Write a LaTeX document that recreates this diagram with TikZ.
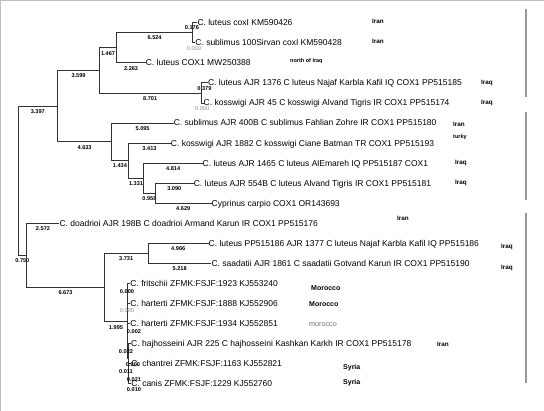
\documentclass[tikz,border=0pt]{standalone}
\usepackage{fontspec}
\setmainfont{Liberation Sans}
\begin{document}
\begin{tikzpicture}[x=1pt,y=-1pt,
  br/.style={draw=black!80, line width=0.75pt},
  leaf/.style={anchor=west, inner sep=0pt, xshift=2.6pt, text height=6.1pt, text depth=0pt, font=\fontsize{8.5}{9}\selectfont},
  bl/.style={font=\bfseries\fontsize{5.6}{6}\selectfont, inner sep=0pt, anchor=north, yshift=-3pt},
  zl/.style={font=\fontsize{5.6}{6}\selectfont, text=black!45, inner sep=0pt, anchor=north, yshift=-3pt},
  mbl/.style={font=\bfseries\fontsize{5.6}{6}\selectfont, inner sep=0pt, anchor=center},
  mzl/.style={font=\fontsize{5.6}{6}\selectfont, text=black!45, inner sep=0pt, anchor=center},
  ctry/.style={font=\bfseries\fontsize{6.3}{7}\selectfont, anchor=west, inner sep=0pt},
  bar/.style={draw=black!40, line width=1.3pt},
  frame/.style={draw=black!25, line width=1.2pt}]
\useasboundingbox (0,0) rectangle (544,411);
\fill[white] (0,0) rectangle (544,411);
\draw[frame] (0.6,411) -- (0.6,0.6) -- (544,0.6);

% internal nodes
\coordinate (R) at (18,180.6);
\coordinate (A) at (57.6,106.0);
\coordinate (B) at (99.5,70.3);
\coordinate (C) at (116.6,47.75);
\coordinate (D) at (192.6,32.7);
\coordinate (E) at (200.9,92.9);
\coordinate (F) at (111.6,141.75);
\coordinate (G) at (128.3,160.55);
\coordinate (H) at (143.8,178.1);
\coordinate (I) at (155.0,193.1);
\coordinate (J) at (26.7,255.15);
\coordinate (K) at (104.4,287.1);
\coordinate (L) at (148.0,253.3);
\coordinate (M) at (127.6,320.95);
\coordinate (N) at (128.1,358.55);
\coordinate (O) at (128.6,373.6);

% leaves
\node[leaf] (l0) at (194.7,22.7) {C. luteus coxI KM590426};
\node[leaf] (l1) at (192.6,42.75) {C. sublimus 100Sirvan coxI KM590428};
\node[leaf] (l2) at (143.0,62.8) {C. luteus COX1 MW250388};
\node[leaf] (l3) at (205.3,82.85) {C. luteus AJR 1376 C luteus Najaf Karbla Kafil IQ COX1 PP515185};
\node[leaf] (l4) at (200.9,102.9) {C. kosswigi AJR 45 C kosswigi Alvand Tigris IR COX1 PP515174};
\node[leaf] (l5) at (171.0,122.95) {C. sublimus AJR 400B C sublimus Fahlian Zohre IR COX1 PP515180};
\node[leaf] (l6) at (168.1,143.0) {C. kosswigi AJR 1882 C kosswigi Ciane Batman TR COX1 PP515193};
\node[leaf] (l7) at (199.9,163.05) {C. luteus AJR 1465 C luteus AlEmareh IQ PP515187 COX1};
\node[leaf] (l8) at (191.0,183.1) {C. luteus AJR 554B C luteus Alvand Tigris IR COX1 PP515181};
\node[leaf] (l9) at (208.9,203.15) {Cyprinus carpio COX1 OR143693};
\node[leaf] (l10) at (56.7,223.2) {C. doadrioi AJR 198B C doadrioi Armand Karun IR COX1 PP515176};
\node[leaf] (l11) at (205.9,243.25) {C. luteus PP515186 AJR 1377 C luteus Najaf Karbla Kafil IQ PP515186};
\node[leaf] (l12) at (208.8,263.3) {C. saadatii AJR 1861 C saadatii Gotvand Karun IR COX1 PP515190};
\node[leaf] (l13) at (127.6,283.35) {C. fritschii ZFMK:FSJF:1923 KJ553240};
\node[leaf] (l14) at (127.6,303.4) {C. harterti ZFMK:FSJF:1888 KJ552906};
\node[leaf] (l15) at (127.6,323.45) {C. harterti ZFMK:FSJF:1934 KJ552851};
\node[leaf] (l16) at (128.4,343.5) {C. hajhosseini AJR 225 C hajhosseini Kashkan Karkh IR COX1 PP515178};
\node[leaf] (l17) at (128.6,363.55) {C. chantrei ZFMK:FSJF:1163 KJ552821};
\node[leaf] (l18) at (128.6,383.6) {C. canis ZFMK:FSJF:1229 KJ552760};

% branches
\draw[br] (R) |- (A) node[bl,pos=.75] {3.397};
\draw[br] (R) |- (J) node[bl,pos=.75] {0.750};
\draw[br] (A) |- (B) node[bl,pos=.75] {3.599};
\draw[br] (A) |- (F) node[bl,pos=.75] {4.633};
\draw[br] (B) |- (C) node[bl,pos=.75] {1.467};
\draw[br] (B) |- (E) node[bl,pos=.75] {8.701};
\draw[br] (C) |- (D) node[bl,pos=.75] {6.524};
\draw[br] (C) |- (l2.west) node[bl,pos=.75] {2.263};
\draw[br] (D) |- (l0.west) node[bl,pos=.75,xshift=-3pt] {0.176};
\draw[br] (D) |- (l1.west) node[zl,pos=.75] {0.000};
\draw[br] (E) |- (l3.west) node[bl,pos=.75] {0.379};
\draw[br] (E) |- (l4.west) node[zl,pos=.75] {0.000};
\draw[br] (F) |- (l5.west) node[bl,pos=.75] {5.095};
\draw[br] (F) |- (G) node[bl,pos=.75] {1.434};
\draw[br] (G) |- (l6.west) node[bl,pos=.75] {3.413};
\draw[br] (G) |- (H) node[bl,pos=.75] {1.331};
\draw[br] (H) |- (l7.west) node[bl,pos=.75] {4.814};
\draw[br] (H) |- (I) node[bl,pos=.75] {0.958};
\draw[br] (I) |- (l8.west) node[bl,pos=.75] {3.090};
\draw[br] (I) |- (l9.west) node[bl,pos=.75] {4.629};
\draw[br] (J) |- (l10.west) node[bl,pos=.75] {2.572};
\draw[br] (J) |- (K) node[bl,pos=.75] {6.673};
\draw[br] (K) |- (L) node[bl,pos=.75] {3.731};
\draw[br] (K) |- (M) node[bl,pos=.75,yshift=-1pt] {1.995};
\draw[br] (L) |- (l11.west) node[bl,pos=.75] {4.966};
\draw[br] (L) |- (l12.west) node[bl,pos=.75] {5.218};
\draw[br] (M) |- (l13.west);
\draw[br] (M) |- (l14.west);
\draw[br] (M) |- (l15.west);
\draw[br] (M) |- (N);
\draw[br] (N) |- (l16.west);
\draw[br] (N) |- (O);
\draw[br] (O) |- (l17.west);
\draw[br] (O) |- (l18.west);

% small branch labels in the last clade
\node[mbl] (m13) at (127,292) {0.000};
\node[mzl] (m14) at (127,311) {0.000};
\node[mbl] (m15) at (134,331.5) {0.002};
\node[mbl] (m16) at (126,351.5) {0.022};
\node[mbl] (mN) at (133,365) {0.000};
\node[mbl] (m17) at (126,372) {0.011};
\node[mbl] (mO) at (134,380) {0.021};
\node[mbl] (m18) at (134,390) {0.010};

% country labels
\node[ctry] (c0) at (372,21) {Iran};
\node[ctry] (c1) at (372,41) {Iran};
\node[ctry,font=\bfseries\fontsize{5.5}{6}\selectfont] (c2) at (290,61) {north of Iraq};
\node[ctry] (c3) at (481,83) {Iraq};
\node[ctry] (c4) at (481,103) {Iraq};
\node[ctry] (c5) at (453,124) {Iran};
\node[ctry,font=\bfseries\fontsize{5.5}{6}\selectfont] (c6) at (453,137) {turky};
\node[ctry] (c7) at (455,163) {Iraq};
\node[ctry] (c8) at (455,183) {Iraq};
\node[ctry] (c10) at (397,218) {Iran};
\node[ctry] (c11) at (501,247) {Iraq};
\node[ctry] (c12) at (501,268) {Iraq};
\node[ctry,font=\bfseries\fontsize{7}{8}\selectfont] (c13) at (311,288) {Morocco};
\node[ctry,font=\bfseries\fontsize{7}{8}\selectfont] (c14) at (309,304) {Morocco};
\node[ctry,font=\fontsize{7.2}{8}\selectfont,text=black!55] (c15) at (309,325) {morocco};
\node[ctry] (c16) at (437,344) {Iran};
\node[ctry,font=\bfseries\fontsize{7}{8}\selectfont] (c17) at (343,368) {Syria};
\node[ctry,font=\bfseries\fontsize{7}{8}\selectfont] (c18) at (343,383) {Syria};

% cluster bars
\draw[bar] (526,9) -- (526,97);
\draw[bar] (526,112) -- (526,200);
\draw[bar] (526,213) -- (526,383);
\end{tikzpicture}
\end{document}
